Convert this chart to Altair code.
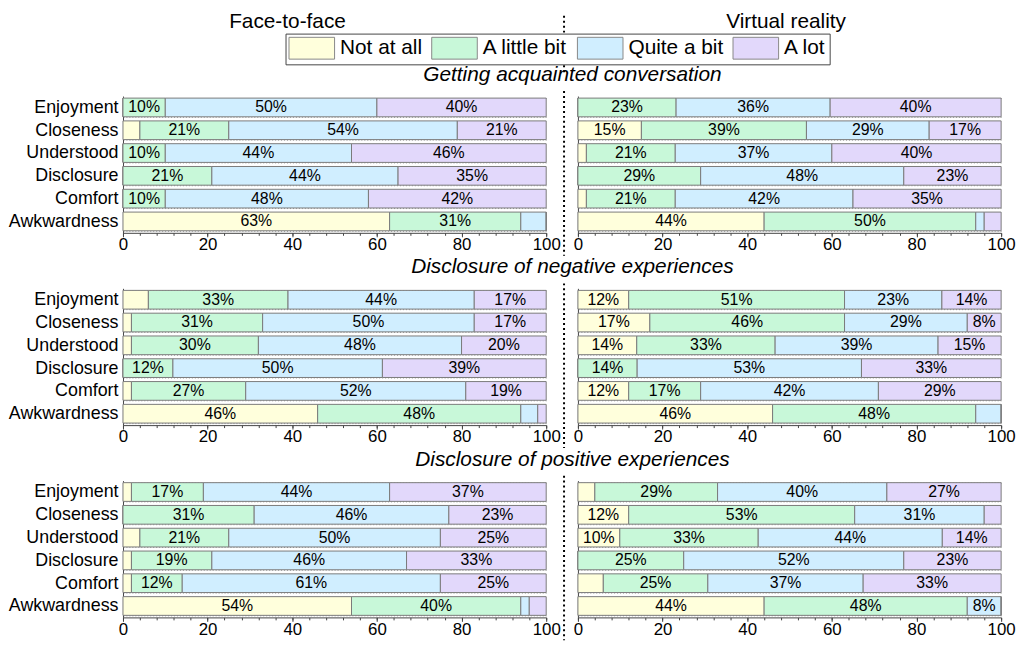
import altair as alt
import pandas as pd

FONT = "Liberation Sans"

ITEMS = ["Enjoyment", "Closeness", "Understood", "Disclosure", "Comfort", "Awkwardness"]
LEVELS = ["Not at all", "A little bit", "Quite a bit", "A lot"]
COLORS = ["#FFFFDC", "#C8F8D9", "#D0EEFF", "#E2D8FB"]
MODES = ["Face-to-face", "Virtual reality"]
SCENARIOS = [
    "Getting acquainted conversation",
    "Disclosure of negative experiences",
    "Disclosure of positive experiences",
]

# percentages per item (rows follow ITEMS), columns follow LEVELS
F2F_ACQ = [[0, 10, 50, 40], [4, 21, 54, 21], [0, 10, 44, 46],
           [0, 21, 44, 35], [0, 10, 48, 42], [63, 31, 6, 0]]
VR_ACQ = [[0, 23.2, 36.4, 40.4], [15, 39, 29, 17], [2, 21, 37, 40],
          [0, 29, 48, 23], [2, 21, 42, 35], [44, 50, 2, 4]]
F2F_NEG = [[6, 33, 44, 17], [2, 31, 50, 17], [2, 30, 48, 20],
           [0, 11.8, 49.5, 38.7], [2, 27, 52, 19], [46, 48, 4, 2]]
VR_NEG = [[12, 51, 23, 14], [17, 46, 29, 8], [13.9, 32.7, 38.5, 14.9],
          [0, 14, 53, 33], [12, 17, 42, 29], [46, 48, 6, 0]]
F2F_POS = [[2, 17, 44, 37], [0, 31, 46, 23], [4, 21, 50, 25],
           [2, 19, 46, 33], [2, 12, 61, 25], [54, 40, 2, 4]]
VR_POS = [[4, 29, 40, 27], [12, 53.4, 30.6, 4], [9.9, 32.7, 43.5, 13.9],
          [0, 25, 52, 23], [6, 24.7, 36.7, 32.6], [44, 48, 8, 0]]

X_MAJOR = [0, 20, 40, 60, 80, 100]
X_MINOR = [0, 4, 8, 12, 16, 20, 24, 28, 32, 36, 40, 44, 48, 52, 56, 60,
           64, 68, 72, 76, 80, 84, 88, 92, 96, 100]

TABLES = {
    (SCENARIOS[0], MODES[0]): F2F_ACQ, (SCENARIOS[0], MODES[1]): VR_ACQ,
    (SCENARIOS[1], MODES[0]): F2F_NEG, (SCENARIOS[1], MODES[1]): VR_NEG,
    (SCENARIOS[2], MODES[0]): F2F_POS, (SCENARIOS[2], MODES[1]): VR_POS,
}

rows = []
for (scen, mode), table in TABLES.items():
    for item, vals in zip(ITEMS, table):
        for k, (lev, v) in enumerate(zip(LEVELS, vals)):
            rows.append({"scenario": scen, "mode": mode, "item": item,
                         "level": lev, "order": k, "value": v})
df = pd.DataFrame(rows)

W, H = 427, 138
GAP = 32
LAB = 114  # room for the item labels left of the first column
HDR_H = 27
ROW_SP = 56

LEGEND = alt.Legend(
    orient="none", legendX=164, legendY=20, direction="horizontal", columns=4,
    title=None, symbolType="M-1,-1H3.18V1H-1Z", symbolSize=484,
    symbolStrokeColor="#888888", symbolStrokeWidth=1,
    labelFont=FONT, labelFontSize=21, labelColor="black", labelOffset=29,
    columnPadding=7, padding=3, strokeColor="#444444", fillColor="white",
    zindex=1,
)

X_SCALE = alt.Scale(domain=[0, 100], nice=False)
MAJOR_AXIS = alt.Axis(values=X_MAJOR, tickSize=4, tickColor="#444444",
                      domainColor="#444444", labelFont=FONT, labelFontSize=17,
                      labelColor="black", labelPadding=0, grid=False,
                      orient="bottom", title=None, labelFlush=False)
MINOR_AXIS = alt.Axis(values=X_MINOR, tickSize=2.5, tickColor="#444444",
                      domain=False, labels=False, grid=False, orient="bottom",
                      title=None)


def y_axis(left):
    common = dict(ticks=False, domain=True, domainColor="#444444", grid=True,
                  gridDash=[1, 2], gridColor="#9a9a9a", tickBand="extent",
                  title=None)
    if left:
        return alt.Axis(labelFont=FONT, labelFontSize=18, labelColor="black",
                        labelPadding=5, minExtent=LAB, maxExtent=LAB, **common)
    return alt.Axis(labels=False, minExtent=0, maxExtent=0, **common)


def divider(y_top, y_bottom):
    return alt.Chart(alt.Data(values=[{}])).mark_rule(
        color="black", strokeWidth=2, strokeDash=[2, 3]
    ).encode(x=alt.value(-GAP + 18), y=alt.value(y_top), y2=alt.value(y_bottom))


def panel(scen, mode, left):
    base = alt.Chart(df).transform_filter(
        (alt.datum.scenario == scen) & (alt.datum.mode == mode)
    )
    yenc = alt.Y("item:N", sort=ITEMS, title=None,
                 scale=alt.Scale(paddingInner=0.18, paddingOuter=0.09),
                 axis=y_axis(left))
    bars = base.mark_bar(stroke="#7a7a7a", strokeWidth=1).encode(
        x=alt.X("value:Q", stack="zero", scale=X_SCALE, axis=MAJOR_AXIS),
        y=yenc,
        color=alt.Color("level:N", scale=alt.Scale(domain=LEVELS, range=COLORS),
                        legend=LEGEND),
        order=alt.Order("order:Q"),
    )
    labels = base.transform_stack(
        stack="value", groupby=["item"],
        sort=[alt.SortField(field="order", order="ascending")],
        as_=["x0", "x1"],
    ).transform_calculate(
        mid="(datum.x0 + datum.x1) / 2",
        lab="format(datum.value, '.0f') + '%'",
    ).transform_filter("datum.value >= 7.5").mark_text(
        font=FONT, fontSize=16, color="black"
    ).encode(
        x=alt.X("mid:Q", scale=X_SCALE, axis=MINOR_AXIS),
        y=yenc,
        text="lab:N",
    )
    layers = [bars, labels]
    props = dict(width=W, height=H)
    if not left:
        layers.append(divider(-5, H + 23))
        props["title"] = alt.TitleParams(
            scen, font=FONT, fontSize=21, fontStyle="italic", fontWeight="normal",
            color="black", anchor="middle", frame="group", dx=-219, offset=5)
    return alt.layer(*layers).resolve_axis(x="independent").properties(**props)


def header_text(label, xpos):
    return alt.Chart(pd.DataFrame({"label": [label]})).mark_text(
        font=FONT, fontSize=21, baseline="middle", color="black"
    ).encode(x=alt.value(xpos), y=alt.value(8.5), text="label:N")


header_left = header_text(MODES[0], 166).properties(width=W, height=HDR_H)
header_right = alt.layer(
    header_text(MODES[1], 210), divider(2, 59)
).properties(width=W, height=HDR_H)

cells = [header_left, header_right]
for scen in SCENARIOS:
    cells.append(panel(scen, MODES[0], True))
    cells.append(panel(scen, MODES[1], False))

chart = alt.concat(
    *cells, columns=2, spacing={"row": ROW_SP, "column": GAP},
    bounds="flush", align="each",
).properties(
    padding={"left": 0, "top": 0, "right": 0, "bottom": 0}
).configure(font=FONT).configure_view(stroke=None)

chart.save("out.html", embed_options={"renderer": "svg", "actions": False})
